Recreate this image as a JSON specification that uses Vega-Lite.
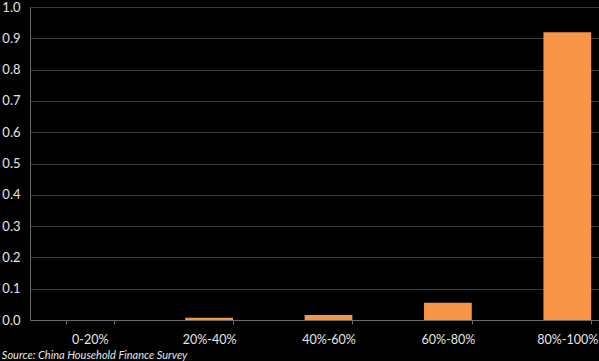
{
  "$schema": "https://vega.github.io/schema/vega-lite/v6.json",
  "width": 597,
  "height": 313,
  "autosize": "none",
  "padding": {"left": 30, "top": 7, "right": 0, "bottom": 41},
  "background": "#000000",
  "data": {"values": [
    {"group": "0-20%", "value": 0.0},
    {"group": "20%-40%", "value": 0.007},
    {"group": "40%-60%", "value": 0.016},
    {"group": "60%-80%", "value": 0.055},
    {"group": "80%-100%", "value": 0.919}
  ]},
  "title": {
    "text": "Source: China Household Finance Survey",
    "orient": "bottom",
    "anchor": "start",
    "frame": "bounds",
    "font": "Lato",
    "fontSize": 11,
    "fontStyle": "italic",
    "fontWeight": "normal",
    "color": "#e6e6e6",
    "offset": 4
  },
  "config": {"view": {"stroke": null}},
  "mark": {"type": "bar", "color": "#F79646"},
  "encoding": {
    "x": {
      "field": "group", "type": "nominal", "sort": null,
      "scale": {"paddingInner": 0.6, "paddingOuter": 0.3},
      "axis": {
        "title": null, "labelAngle": 0, "labelFont": "Lato", "labelFontSize": 12.5,
        "labelColor": "#e6e6e6", "domainColor": "#6a6a6a", "tickColor": "#6a6a6a",
        "tickBand": "extent", "tickSize": 4, "labelPadding": 9, "grid": false
      }
    },
    "y": {
      "field": "value", "type": "quantitative",
      "scale": {"domain": [0, 1]},
      "axis": {
        "title": null, "values": [0, 0.1, 0.2, 0.3, 0.4, 0.5, 0.6, 0.7, 0.8, 0.9, 1.0],
        "format": ".1f", "labelFont": "Lato", "labelFontSize": 13, "labelColor": "#e6e6e6",
        "domainColor": "#6a6a6a", "ticks": false, "labelPadding": 10,
        "gridColor": "#3a3a3a", "gridWidth": 1
      }
    }
  }
}
